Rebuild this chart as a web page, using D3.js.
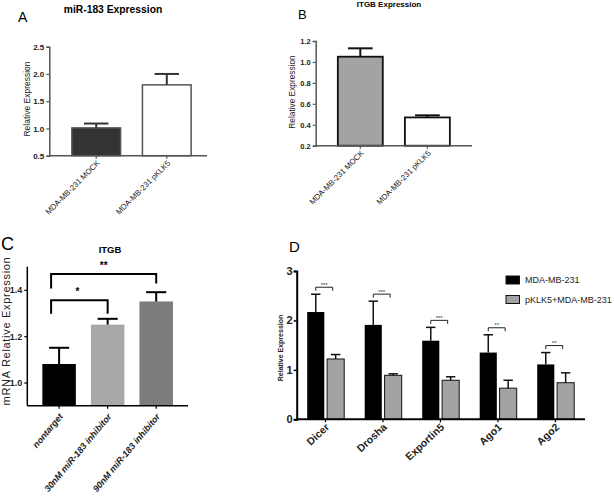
<!DOCTYPE html>
<html><head><meta charset="utf-8">
<script src="https://cdn.jsdelivr.net/npm/d3@7"></script>
<style>
body{margin:0;background:#fff;}
svg{display:block;font-family:Arial,"Liberation Sans",sans-serif;}
</style></head>
<body><svg id="c" width="614" height="500"></svg>
<script>
// ---------- DATA ----------
const aCats = ["MDA-MB-231 MOCK", "MDA-MB-231 pKLK5"];
const aVals = [1.01, 1.80];
const aErr  = [0.08, 0.20];
const aTicks = [0.5, 1.0, 1.5, 2.0, 2.5];

const bCats = ["MDA-MB-231 MOCK", "MDA-MB-231 pKLK5"];
const bVals = [1.05, 0.47];
const bErr  = [0.08, 0.02];
const bTicks = [0.2, 0.4, 0.6, 0.8, 1.0, 1.2];

const cCats = ["nontarget", "30nM miR-183 inhibitor", "90nM miR-183 inhibitor"];
const cVals = [1.08, 1.25, 1.35];
const cErr  = [0.07, 0.025, 0.04];
const cTicks = [1.0, 1.2, 1.4];
const cBrackets = [
  {from: 0, to: 1, label: "*",  level: 1.355, legL: 1.297, legR: 1.297},
  {from: 0, to: 2, label: "**", level: 1.469, legL: 1.406, legR: 1.428}
];

const dCats = ["Dicer", "Drosha", "Exportin5", "Ago1", "Ago2"];
const dSeries = ["MDA-MB-231", "pKLK5+MDA-MB-231"];
const dCtrl    = [2.17, 1.91, 1.59, 1.35, 1.11];
const dCtrlErr = [0.36, 0.48, 0.27, 0.36, 0.24];
const dKlk     = [1.22, 0.89, 0.79, 0.63, 0.74];
const dKlkErr  = [0.09, 0.03, 0.07, 0.16, 0.20];
const dSig     = ["***", "***", "***", "**", "**"];
const dTicks   = [0, 1, 2, 3];

// ---------- DRAW ----------
const svg = d3.select("#c");
const FONT = 'Arial,"Liberation Sans",sans-serif';

function yAxis(g, y, x0, ticks, fmt, opts) {
  const ax = g.append("g").attr("transform", `translate(${x0},0)`)
    .call(d3.axisLeft(y).tickValues(ticks).tickFormat(fmt).tickSize(opts.tick).tickPadding(opts.pad));
  ax.select(".domain").attr("stroke", opts.color).attr("stroke-width", opts.sw);
  ax.selectAll(".tick line").attr("stroke", opts.color).attr("stroke-width", opts.tsw || 1.2);
  ax.selectAll(".tick text").attr("font-size", opts.fs).attr("font-weight", "bold")
    .attr("font-family", FONT).attr("fill", "#222");
  return ax;
}
function xAxis(g, x, y0, x1End, opts) {
  const ax = g.append("g").attr("transform", `translate(0,${y0})`)
    .call(d3.axisBottom(x).tickSize(opts.tick));
  ax.select(".domain").remove();
  const r = x.range();
  g.append("line").attr("x1", r[0]).attr("x2", x1End).attr("y1", y0).attr("y2", y0)
    .attr("stroke", opts.color).attr("stroke-width", opts.sw);
  ax.selectAll(".tick line").attr("stroke", opts.color).attr("stroke-width", 1.2);
  ax.selectAll(".tick text")
    .attr("font-size", opts.fs).attr("font-family", FONT)
    .attr("font-weight", opts.fw || "normal").attr("font-style", opts.fstyle || "normal")
    .attr("fill", "#222")
    .attr("text-anchor", "end").attr("y", 0).attr("dy", "0.35em")
    .attr("transform", `translate(${opts.dx},${opts.dy}) rotate(${opts.rot})`);
  return ax;
}
function errBar(g, cx, yTop, yVal, cap, sw, color) {
  g.append("line").attr("x1", cx).attr("x2", cx).attr("y1", yVal).attr("y2", yTop)
    .attr("stroke", color).attr("stroke-width", sw);
  g.append("line").attr("x1", cx - cap / 2).attr("x2", cx + cap / 2).attr("y1", yTop).attr("y2", yTop)
    .attr("stroke", color).attr("stroke-width", sw);
}

// ----- Panel A -----
(function () {
  const g = svg.append("g");
  const x = d3.scaleBand().domain(aCats).range([50, 213]).padding(0.31);
  const y = d3.scaleLinear().domain([0.5, 2.5]).range([155.7, 46.7]);
  const fills = ["#333333", "#ffffff"];
  aCats.forEach((c, i) => {
    g.append("rect").attr("x", x(c)).attr("y", y(aVals[i])).attr("width", x.bandwidth())
      .attr("height", y(0.5) - y(aVals[i])).attr("fill", fills[i]).attr("stroke", "#555").attr("stroke-width", 1.5);
    errBar(g, x(c) + x.bandwidth() / 2, y(aVals[i] + aErr[i]), y(aVals[i]), x.bandwidth() * 0.5, 2, "#333");
  });
  yAxis(g, y, 49.3, aTicks, d3.format(".1f"), {tick: 3, pad: 2, color: "#555", sw: 1.5, fs: 8});
  xAxis(g, x, 155.7, 207, {tick: 3, color: "#555", sw: 1.5, fs: 7.8, dx: 2, dy: 6, rot: -45});
  g.append("text").attr("x", 18).attr("y", 22).attr("font-size", 14).attr("font-family", FONT).text("A");
  g.append("text").attr("x", 113).attr("y", 13).attr("text-anchor", "middle").attr("font-size", 10.3)
    .attr("font-weight", "bold").attr("font-family", FONT).text("miR-183 Expression");
  g.append("text").attr("transform", "translate(30,99) rotate(-90)").attr("text-anchor", "middle")
    .attr("font-size", 8.5).attr("font-family", FONT).attr("fill", "#222").text("Relative Expression");
})();

// ----- Panel B -----
(function () {
  const g = svg.append("g");
  const x = d3.scaleBand().domain(bCats).range([315.7, 472]).padding(0.33);
  const y = d3.scaleLinear().domain([0.2, 1.2]).range([145.7, 41]);
  const fills = ["#a3a3a3", "#ffffff"];
  bCats.forEach((c, i) => {
    g.append("rect").attr("x", x(c)).attr("y", y(bVals[i])).attr("width", x.bandwidth())
      .attr("height", y(0.2) - y(bVals[i])).attr("fill", fills[i]).attr("stroke", "#111").attr("stroke-width", 1.8);
    errBar(g, x(c) + x.bandwidth() / 2, y(bVals[i] + bErr[i]), y(bVals[i]), x.bandwidth() * 0.55, 2, "#111");
  });
  yAxis(g, y, 315.7, bTicks, d3.format(".1f"), {tick: 3, pad: 2, color: "#555", sw: 1.5, fs: 7.5});
  xAxis(g, x, 145.7, 472, {tick: 3, color: "#555", sw: 1.5, fs: 7.8, dx: 2, dy: 6, rot: -45});
  g.append("text").attr("x", 298).attr("y", 19).attr("font-size", 13).attr("font-family", FONT).text("B");
  g.append("text").attr("x", 389).attr("y", 7).attr("text-anchor", "middle").attr("font-size", 8)
    .attr("font-weight", "bold").attr("font-family", FONT).text("ITGB Expression");
  g.append("text").attr("transform", "translate(295,92) rotate(-90)").attr("text-anchor", "middle")
    .attr("font-size", 8.3).attr("font-family", FONT).attr("fill", "#222").text("Relative Expression");
})();

// ----- Panel C -----
(function () {
  const g = svg.append("g");
  const x = d3.scaleBand().domain(cCats).range([27.3, 188]).padding(0.31);
  const y = d3.scaleLinear().domain([0.9, 1.5]).range([405.7, 266.7]);
  const fills = ["#000000", "#a8a8a8", "#7c7c7c"];
  cCats.forEach((c, i) => {
    g.append("rect").attr("x", x(c)).attr("y", y(cVals[i])).attr("width", x.bandwidth())
      .attr("height", y(0.9) - y(cVals[i])).attr("fill", fills[i]);
    errBar(g, x(c) + x.bandwidth() / 2, y(cVals[i] + cErr[i]), y(cVals[i]), x.bandwidth() * 0.6, 2, "#000");
  });
  const ya = yAxis(g, y, 27.3, cTicks, d3.format(".1f"), {tick: 3, pad: 2, color: "#000", sw: 1.5, fs: 9});
  ya.select(".domain").attr("d", `M-0,${y(1.5)}V${y(0.9)}`);
  xAxis(g, x, 405.7, 188, {tick: 3, color: "#000", sw: 1.5, fs: 9, fw: "bold", fstyle: "italic", dx: 2, dy: 9, rot: -50});
  cBrackets.forEach(b => {
    const x1 = x(cCats[b.from]) + x.bandwidth() / 2 - 8, x2 = x(cCats[b.to]) + x.bandwidth() / 2;
    g.append("path").attr("d", `M${x1},${y(b.legL)}V${y(b.level)}H${x2}V${y(b.legR)}`)
      .attr("fill", "none").attr("stroke", "#000").attr("stroke-width", 2);
    g.append("text").attr("x", (x1 + x2) / 2 - (b.label.length === 1 ? 2 : 0)).attr("y", y(b.level) - 5)
      .attr("text-anchor", "middle").attr("font-size", 10).attr("font-weight", "bold")
      .attr("font-family", FONT).text(b.label);
  });
  g.append("text").attr("x", 1).attr("y", 250).attr("font-size", 18).attr("font-family", FONT).text("C");
  g.append("text").attr("x", 110).attr("y", 253).attr("text-anchor", "middle").attr("font-size", 9.5)
    .attr("font-weight", "bold").attr("font-family", FONT).text("ITGB");
  g.append("text").attr("transform", "translate(9.5,331) rotate(-90)").attr("text-anchor", "middle")
    .attr("font-size", 11).attr("letter-spacing", 0.7).attr("font-family", FONT).attr("fill", "#222")
    .text("mRNA Relative Expression");
})();

// ----- Panel D -----
(function () {
  const g = svg.append("g");
  const x0 = d3.scaleBand().domain(dCats).range([296.7, 584.2]).paddingInner(0).paddingOuter(0);
  const x1 = d3.scaleBand().domain(dSeries).range([10.5, 47.5]).paddingInner(0.14);
  const y = d3.scaleLinear().domain([0, 3]).range([419.3, 271]);
  const vals = [dCtrl, dKlk], errs = [dCtrlErr, dKlkErr];
  const fills = ["#000000", "#a3a3a3"];
  dCats.forEach((c, i) => {
    dSeries.forEach((s, k) => {
      const bx = x0(c) + x1(s);
      g.append("rect").attr("x", bx).attr("y", y(vals[k][i])).attr("width", x1.bandwidth())
        .attr("height", y(0) - y(vals[k][i])).attr("fill", fills[k])
        .attr("stroke", "#111").attr("stroke-width", k === 1 ? 1 : 0);
      errBar(g, bx + x1.bandwidth() / 2, y(vals[k][i] + errs[k][i]), y(vals[k][i]), x1.bandwidth() * 0.55, 1.5, "#111");
    });
    const bxA = x0(c) + x1(dSeries[0]) + x1.bandwidth() / 2;
    const bxB = x0(c) + x1(dSeries[1]) + x1.bandwidth() / 2 - 3;
    const by = y(dCtrl[i] + dCtrlErr[i]) - 7;
    g.append("path").attr("d", `M${bxA},${by + 3.5}V${by}H${bxB}V${by + 3.5}`)
      .attr("fill", "none").attr("stroke", "#222").attr("stroke-width", 1);
    g.append("text").attr("x", (bxA + bxB) / 2).attr("y", by - 0.5).attr("text-anchor", "middle")
      .attr("font-size", 6).attr("font-family", FONT).attr("fill", "#333").text(dSig[i]);
  });
  yAxis(g, y, 296.7, dTicks, d3.format("d"), {tick: 3, pad: 1, color: "#000", sw: 2, fs: 11, tsw: 1.5});
  xAxis(g, x0, 419.3, 585, {tick: 3, color: "#000", sw: 2, fs: 10.5, fw: "bold", dx: 2, dy: 6, rot: -43});
  g.append("text").attr("x", 289).attr("y", 252).attr("font-size", 15).attr("font-family", FONT).text("D");
  g.append("text").attr("transform", "translate(283,348) rotate(-90)").attr("text-anchor", "middle")
    .attr("font-size", 7).attr("font-weight", "bold").attr("font-family", FONT).attr("fill", "#222")
    .text("Relative Expression");
  // legend
  const leg = g.append("g");
  dSeries.forEach((s, k) => {
    const ly = 280 + k * 19.5;
    leg.append("rect").attr("x", 506).attr("y", ly - 4).attr("width", 13.5).attr("height", 8)
      .attr("fill", fills[k]).attr("stroke", "#111").attr("stroke-width", 1);
    leg.append("text").attr("x", 525).attr("y", ly).attr("dy", "0.35em").attr("font-size", 9)
      .attr("font-family", FONT).attr("fill", "#222").text(s);
  });
})();
</script></body></html>
